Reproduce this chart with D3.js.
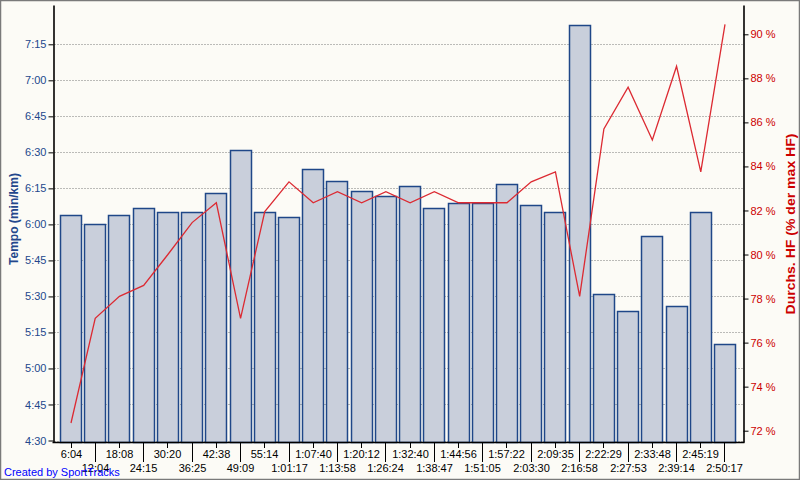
<!DOCTYPE html>
<html><head><meta charset="utf-8">
<script src="https://cdn.jsdelivr.net/npm/d3@7"></script>
<style>body{margin:0;background:#fff}svg{display:block}</style>
</head><body>
<svg id="chart" width="800" height="480"></svg>
<script>
// ---- data ----
const lapLabels = ["6:04","12:04","18:08","24:15","30:20","36:25","42:38","49:09","55:14","1:01:17",
  "1:07:40","1:13:58","1:20:12","1:26:24","1:32:40","1:38:47","1:44:56","1:51:05","1:57:22","2:03:30",
  "2:09:35","2:16:58","2:22:29","2:27:53","2:33:48","2:39:14","2:45:19","2:50:17"];
// pace in seconds per km
const paceSeconds = [364,360,364,367,365,365,373,391,365,363,
  383,378,374,372,376,367,369,369,377,368,
  365,443,331,324,355,326,365,310];
// average heart rate, % of max HR
const hrPercent = [72.35,77.1,78.1,78.6,80.0,81.45,82.35,77.1,81.95,83.3,
  82.35,82.85,82.35,82.85,82.35,82.85,82.35,82.35,82.35,83.3,
  83.75,78.1,85.7,87.6,85.2,88.55,83.75,90.45];
const paceTicks = [270,285,300,315,330,345,360,375,390,405,420,435];
const hrTicks = [72,74,76,78,80,82,84,86,88,90];

// ---- layout ----
const svg = d3.select("#chart");
const pLeft = 53.5, pRight = 743.5, pTop = 5, pBottom = 442;
const bg = "#fcfbf6", blue = "#23478c", red = "#cc0000";

svg.append("rect").attr("x",0).attr("y",0).attr("width",800).attr("height",480).attr("fill",bg);

// pace scale: 4:30 at 440.5, 7:15 at 44.3
const yBase = d3.scaleLinear().domain([270,435]).range([440.5,44.3]);
const y = d3.scaleLinear().domain([yBase.invert(pBottom), yBase.invert(pTop)]).range([pBottom, pTop]);
const hrBase = d3.scaleLinear().domain([72,90]).range([430.7,34.3]);
const yR = d3.scaleLinear().domain([hrBase.invert(pBottom), hrBase.invert(pTop)]).range([pBottom, pTop]);
const x = d3.scaleBand().domain(lapLabels).range([60,735]).paddingInner(0.133).paddingOuter(0);

const fmtPace = s => Math.floor(s/60) + ":" + String(s%60).padStart(2,"0");

// gridlines
svg.append("g").selectAll("line").data(paceTicks).join("line")
  .attr("x1",pLeft+1).attr("x2",pRight-1)
  .attr("y1",d=>Math.round(y(d))+0.5).attr("y2",d=>Math.round(y(d))+0.5)
  .attr("stroke","#7a7a7a").attr("stroke-width",1).attr("stroke-dasharray","1,2");

// bars
svg.append("g").selectAll("rect").data(paceSeconds).join("rect")
  .attr("x",(d,i)=>Math.round(x(lapLabels[i]))+0.5)
  .attr("y",d=>Math.round(y(d))+0.5)
  .attr("width",Math.round(x.bandwidth()))
  .attr("height",d=>pBottom-Math.round(y(d)))
  .attr("fill","#c9cfdb").attr("stroke","#1f4788").attr("stroke-width",1.5);

// HR line
const line = d3.line().x((d,i)=>x(lapLabels[i])+x.bandwidth()/2+0.5).y(d=>yR(d));
svg.append("path").datum(hrPercent).attr("d",line)
  .attr("fill","none").attr("stroke","#dc2a32").attr("stroke-width",1.3);

// left axis
const axL = svg.append("g").attr("transform",`translate(${pLeft},0)`)
  .call(d3.axisLeft(y).tickValues(paceTicks).tickFormat(fmtPace).tickSize(5).tickSizeOuter(0).tickPadding(2));
axL.select(".domain").attr("stroke","#000").attr("stroke-width",1.6);
axL.selectAll(".tick line").attr("stroke","#000");
axL.selectAll(".tick text").attr("fill",blue).style("font","11px 'Liberation Sans', Arial, sans-serif");

// right axis
const axR = svg.append("g").attr("transform",`translate(${pRight},0)`)
  .call(d3.axisRight(yR).tickValues(hrTicks).tickFormat(d=>d+" %").tickSize(5).tickSizeOuter(0).tickPadding(2));
axR.select(".domain").attr("stroke","#000").attr("stroke-width",1.6);
axR.selectAll(".tick line").attr("stroke","#000");
axR.selectAll(".tick text").attr("fill",red).style("font","11px 'Liberation Sans', Arial, sans-serif");

// bottom axis
const axB = svg.append("g").attr("transform",`translate(0,${pBottom})`)
  .call(d3.axisBottom(x).tickSize(5).tickSizeOuter(0).tickPadding(3));
axB.select(".domain").attr("d",`M${pLeft-1},0.5H${pRight+1}`).attr("stroke","#000").attr("stroke-width",1.6);
axB.selectAll(".tick").attr("transform",function(d){return `translate(${Math.round(x(d)+x.bandwidth()/2)+0.5},0)`;});
axB.selectAll(".tick line").attr("stroke","#000").attr("y2",(d,i)=> i%2 ? 20 : 6);
axB.selectAll(".tick text").attr("fill","#000")
  .style("font","11px 'Liberation Sans', Arial, sans-serif")
  .attr("dy",null).attr("y",(d,i)=> i%2 ? 29.5 : 15.5);

// titles
svg.append("text").attr("transform","translate(17.5,219) rotate(-90)")
  .attr("text-anchor","middle").attr("fill",blue)
  .attr("textLength",92).attr("lengthAdjust","spacingAndGlyphs")
  .style("font","bold 13px 'Liberation Sans', Arial, sans-serif").text("Tempo (min/km)");
svg.append("text").attr("transform","translate(795,224) rotate(-90)")
  .attr("text-anchor","middle").attr("fill",red)
  .attr("textLength",181).attr("lengthAdjust","spacingAndGlyphs")
  .style("font","bold 13.5px 'Liberation Sans', Arial, sans-serif").text("Durchs. HF (% der max HF)");

svg.append("text").attr("x",4).attr("y",475.5).attr("fill","#0000ff")
  .style("font","11px 'Liberation Sans', Arial, sans-serif").text("Created by SportTracks");

// border
svg.append("rect").attr("x",0.5).attr("y",0.5).attr("width",799).attr("height",479)
  .attr("fill","none").attr("stroke","#7a7a7a").attr("stroke-width",1.5);
</script>
</body></html>
